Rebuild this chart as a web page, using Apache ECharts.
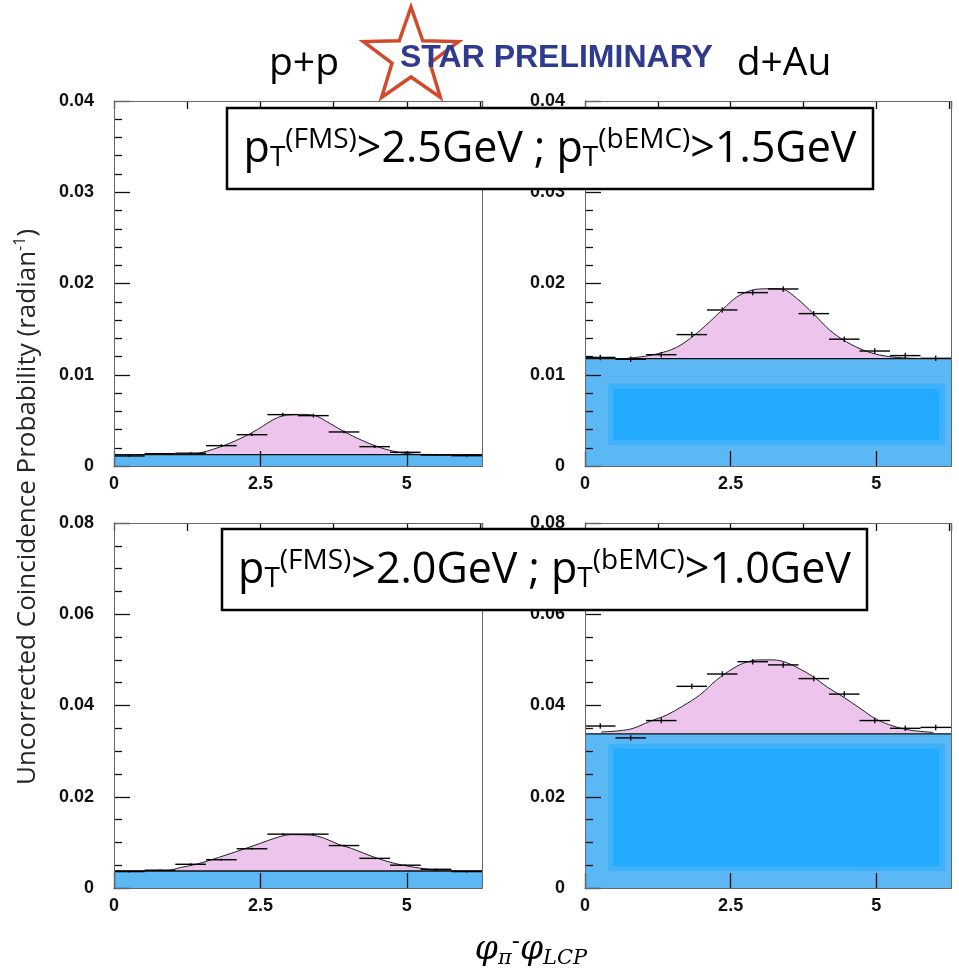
<!DOCTYPE html>
<html>
<head>
<meta charset="utf-8">
<script src="https://cdn.jsdelivr.net/npm/echarts@6/dist/echarts.min.js"></script>
<style>html,body{margin:0;padding:0;background:#fff}#c{width:959px;height:971px}</style>
</head>
<body>
<div id="c"></div>
<script>
// ---------------- DATA ----------------
const phiMax = 6.2832;
const binCenters = [0.262, 0.785, 1.309, 1.833, 2.356, 2.880, 3.403, 3.927, 4.451, 4.974, 5.498, 6.021];
const binHalfWidth = 0.2618;
const xMajorTicks = [0, 2.5, 5];

// p+p, pT(FMS)>2.5GeV ; pT(bEMC)>1.5GeV
const ppHighPedestal = 0.00125;
const ppHighValues = [0.00110, 0.00135, 0.00140, 0.00223, 0.00343, 0.00563, 0.00552, 0.00373, 0.00212, 0.00150, 0.00120, 0.00113];
const ppHighErrors = [0.0001, 0.0001, 0.0001, 0.00015, 0.00015, 0.0002, 0.0002, 0.00015, 0.00015, 0.0001, 0.0001, 0.0001];
const ppHighFitX = [0, 1.20, 1.45, 1.70, 1.93, 2.22, 2.45, 2.62, 2.79, 2.96, 3.20, 3.42, 3.65, 3.93, 4.22, 4.50, 4.73, 4.96, 5.19, 6.2832];
const ppHighFitY = [0.00125, 0.00127, 0.00140, 0.00185, 0.00237, 0.00321, 0.00400, 0.00470, 0.00530, 0.00560, 0.00565, 0.00555, 0.00480, 0.00376, 0.00285, 0.00212, 0.00168, 0.00140, 0.00128, 0.00125];

// d+Au, pT(FMS)>2.5GeV ; pT(bEMC)>1.5GeV
const dAuHighPedestal = 0.01176;
const dAuHighValues = [0.0119, 0.0117, 0.0122, 0.0144, 0.0171, 0.0190, 0.0194, 0.0167, 0.0139, 0.0126, 0.0121, 0.0118];
const dAuHighErrors = [0.0003, 0.0003, 0.0003, 0.0003, 0.0003, 0.0003, 0.0003, 0.0003, 0.0003, 0.0003, 0.0003, 0.0003];
const dAuHighFitX = [0, 0.54, 0.88, 1.23, 1.57, 1.86, 2.14, 2.37, 2.60, 2.83, 3.00, 3.23, 3.40, 3.63, 3.92, 4.20, 4.49, 4.78, 5.06, 5.35, 5.64, 6.2832];
const dAuHighFitY = [0.01180, 0.01174, 0.01190, 0.01227, 0.01300, 0.01425, 0.01580, 0.01720, 0.01850, 0.01920, 0.01940, 0.01943, 0.01936, 0.01840, 0.01670, 0.01490, 0.01360, 0.01270, 0.01216, 0.01190, 0.01180, 0.01176];
const dAuHighShadeOuter = [0.40, 0.00234, 6.18, 0.00902];
const dAuHighShadeInner = [0.49, 0.00289, 6.08, 0.00847];

// p+p, pT(FMS)>2.0GeV ; pT(bEMC)>1.0GeV
const ppLowPedestal = 0.00373;
const ppLowValues = [0.0036, 0.0039, 0.0052, 0.0062, 0.0086, 0.0118, 0.0118, 0.0093, 0.0065, 0.0050, 0.0041, 0.0036];
const ppLowErrors = [0.0002, 0.0002, 0.0002, 0.0002, 0.0002, 0.0002, 0.0002, 0.0002, 0.0002, 0.0002, 0.0002, 0.0002];
const ppLowFitX = [0, 0.90, 1.13, 1.42, 1.65, 1.93, 2.22, 2.50, 2.79, 3.02, 3.36, 3.59, 3.82, 4.05, 4.27, 4.50, 4.79, 5.07, 5.36, 5.53, 6.2832];
const ppLowFitY = [0.00373, 0.00380, 0.00446, 0.00526, 0.00614, 0.00730, 0.00855, 0.00979, 0.01110, 0.01170, 0.01160, 0.01090, 0.00964, 0.00870, 0.00760, 0.00650, 0.00540, 0.00467, 0.00410, 0.00380, 0.00373];

// d+Au, pT(FMS)>2.0GeV ; pT(bEMC)>1.0GeV
const dAuLowPedestal = 0.0338;
const dAuLowValues = [0.0355, 0.0329, 0.0367, 0.0442, 0.0469, 0.0496, 0.0489, 0.0459, 0.0425, 0.0367, 0.0350, 0.0352];
const dAuLowErrors = [0.0006, 0.0006, 0.0006, 0.0006, 0.0006, 0.0006, 0.0006, 0.0006, 0.0006, 0.0006, 0.0006, 0.0006];
const dAuLowFitX = [0.28, 0.77, 1.11, 1.40, 1.68, 1.97, 2.26, 2.54, 2.77, 3.00, 3.23, 3.46, 3.69, 3.92, 4.15, 4.43, 4.72, 5.00, 5.29, 5.58, 5.98];
const dAuLowFitY = [0.0342, 0.0348, 0.0365, 0.0379, 0.0399, 0.0423, 0.0456, 0.0481, 0.0495, 0.0500, 0.0500, 0.0494, 0.0480, 0.0463, 0.0441, 0.0419, 0.0394, 0.0370, 0.0355, 0.0346, 0.0341];
const dAuLowShadeOuter = [0.40, 0.00365, 6.18, 0.0316];
const dAuLowShadeInner = [0.49, 0.0048, 6.08, 0.0305];

// ---------------- LAYOUT / STYLE ----------------
const PINK = '#ECC4EC', BLUE = '#5BB8F4', BLUE2 = '#3DB1F9', BLUE3 = '#22AAFE';
const panels = [
  {grid: {left: 114, top: 101, width: 368, height: 365}, yMax: 0.04, yInt: 0.01, minorSplit: 5,
   ped: ppHighPedestal, vals: ppHighValues, errs: ppHighErrors, fx: ppHighFitX, fy: ppHighFitY},
  {grid: {left: 585, top: 101, width: 366, height: 365}, yMax: 0.04, yInt: 0.01, minorSplit: 5,
   ped: dAuHighPedestal, vals: dAuHighValues, errs: dAuHighErrors, fx: dAuHighFitX, fy: dAuHighFitY,
   shade: [dAuHighShadeOuter, dAuHighShadeInner]},
  {grid: {left: 114, top: 523, width: 368, height: 365}, yMax: 0.08, yInt: 0.02, minorSplit: 4,
   ped: ppLowPedestal, vals: ppLowValues, errs: ppLowErrors, fx: ppLowFitX, fy: ppLowFitY},
  {grid: {left: 585, top: 523, width: 366, height: 365}, yMax: 0.08, yInt: 0.02, minorSplit: 4,
   ped: dAuLowPedestal, vals: dAuLowValues, errs: dAuLowErrors, fx: dAuLowFitX, fy: dAuLowFitY,
   shade: [dAuLowShadeOuter, dAuLowShadeInner]}
];

const labelFont = {fontFamily: '"Liberation Sans", Arial, sans-serif', fontWeight: 'bold', fontSize: 18, color: '#111'};

const grids = [], xAxes = [], yAxes = [], series = [];
panels.forEach((p, i) => {
  grids.push(Object.assign({containLabel: false}, p.grid));
  xAxes.push({
    type: 'value', gridIndex: i, min: 0, max: phiMax, interval: 2.5, z: 10,
    axisLine: {show: true, lineStyle: {color: '#555', width: 1}},
    axisTick: {show: true, inside: true, length: 15, lineStyle: {color: '#111', width: 1.3}},
    axisLabel: Object.assign({show: true, margin: 9, showMaxLabel: false, showMinLabel: true,
      formatter: v => (xMajorTicks.indexOf(v) >= 0 ? String(v) : '')}, labelFont),
    splitLine: {show: false}
  });
  xAxes.push({
    type: 'value', gridIndex: i, min: 0, max: phiMax, interval: 1.25, z: 10,
    axisLine: {show: false},
    axisTick: {show: true, inside: true, length: 8, lineStyle: {color: '#111', width: 1.3}},
    axisLabel: {show: false}, splitLine: {show: false}
  });
  yAxes.push({
    type: 'value', gridIndex: i, min: 0, max: p.yMax, interval: p.yInt, z: 10,
    axisLine: {show: true, lineStyle: {color: '#555', width: 1}},
    axisTick: {show: true, inside: true, length: 16, lineStyle: {color: '#111', width: 1.3}},
    minorTick: {show: true, splitNumber: p.minorSplit, length: 8, lineStyle: {color: '#111', width: 1.3}},
    axisLabel: Object.assign({margin: 20, formatter: v => (v === 0 ? '0' : v.toFixed(2))}, labelFont),
    splitLine: {show: false}, minorSplitLine: {show: false}
  });
  // fit curve (pink area)
  series.push({
    type: 'line', xAxisIndex: 2 * i, yAxisIndex: i, z: 2,
    data: p.fx.map((x, k) => [x, p.fy[k]]),
    smooth: 0.35, symbol: 'none', animation: false,
    lineStyle: {color: '#222', width: 1},
    areaStyle: {color: PINK, opacity: 1}
  });
  // pedestal (blue)
  series.push({
    type: 'line', xAxisIndex: 2 * i, yAxisIndex: i, z: 3,
    data: [[0, p.ped], [phiMax, p.ped]], symbol: 'none', animation: false,
    lineStyle: {color: '#111', width: 1.3},
    areaStyle: {color: BLUE, opacity: 1}
  });
  if (p.shade) {
    const shadeColors = [BLUE2, BLUE3];
    series.push({
      type: 'custom', xAxisIndex: 2 * i, yAxisIndex: i, z: 4, animation: false, silent: true,
      encode: {x: [0, 2], y: [1, 3]},
      data: p.shade.map((s, k) => [s[0], s[1], s[2], s[3], k]),
      renderItem: (params, api) => {
        const a = api.coord([api.value(0), api.value(1)]);
        const b = api.coord([api.value(2), api.value(3)]);
        return {type: 'rect', shape: {x: a[0], y: b[1], width: b[0] - a[0], height: a[1] - b[1]},
          style: {fill: shadeColors[api.value(4)]}};
      }
    });
  }
  // data points with error bars
  series.push({
    type: 'custom', xAxisIndex: 2 * i, yAxisIndex: i, z: 5, animation: false,
    encode: {x: 0, y: 1},
    data: binCenters.map((x, k) => [x, p.vals[k], p.errs[k]]),
    renderItem: (params, api) => {
      const x = api.value(0), y = api.value(1), e = api.value(2);
      const l = api.coord([x - binHalfWidth, y]), r = api.coord([x + binHalfWidth, y]);
      const t = api.coord([x, y + e]), b = api.coord([x, y - e]);
      return {type: 'group', children: [
        {type: 'line', shape: {x1: l[0], y1: l[1], x2: r[0], y2: r[1]}, style: {stroke: '#000', lineWidth: 1.4}},
        {type: 'line', shape: {x1: t[0], y1: t[1], x2: b[0], y2: b[1]}, style: {stroke: '#000', lineWidth: 1.3}}
      ]};
    }
  });
});

// ---------------- DECORATION (graphic) ----------------
const graphics = [];
panels.forEach(p => {
  graphics.push({type: 'rect', z: 20, silent: true,
    shape: {x: p.grid.left + 0.5, y: p.grid.top + 0.5, width: p.grid.width, height: p.grid.height},
    style: {fill: 'none', stroke: '#666', lineWidth: 1}});
});
// star logo
const starPts = [];
for (let k = 0; k < 10; k++) {
  const a = -Math.PI / 2 + k * Math.PI / 5;
  const rr = k % 2 === 0 ? 50 : 20;
  starPts.push([411 + rr * Math.cos(a), 57 + rr * Math.sin(a)]);
}
graphics.push({type: 'polygon', z: 30, silent: true, shape: {points: starPts},
  style: {fill: 'none', stroke: '#D24A2C', lineWidth: 3.5, lineJoin: 'miter'}});
graphics.push({type: 'text', z: 31, x: 400, y: 58, silent: true,
  style: {text: 'STAR PRELIMINARY', fontFamily: '"Liberation Sans", Arial, sans-serif', fontWeight: 'bold',
    fontSize: 32, fill: '#2E3B8F', textAlign: 'left', textVerticalAlign: 'middle'}});
graphics.push({type: 'text', z: 31, x: 304, y: 64, silent: true,
  style: {text: 'p+p', fontFamily: '"Open Sans", sans-serif', fontSize: 39, fill: '#000', textAlign: 'center', textVerticalAlign: 'middle'}});
graphics.push({type: 'text', z: 31, x: 784, y: 64, silent: true,
  style: {text: 'd+Au', fontFamily: '"Open Sans", sans-serif', fontSize: 39, fill: '#000', textAlign: 'center', textVerticalAlign: 'middle'}});

const richBox = {
  m: {fontFamily: '"Open Sans", sans-serif', fontSize: 43, lineHeight: 46, verticalAlign: 'middle', fill: '#000'},
  sup: {fontFamily: '"Open Sans", sans-serif', fontSize: 28, lineHeight: 32, verticalAlign: 'top', fill: '#000'},
  sub: {fontFamily: '"Open Sans", sans-serif', fontSize: 28, lineHeight: 32, verticalAlign: 'bottom', fill: '#000'}
};
function cutBox(x, y, w, h, s1, s2) {
  graphics.push({type: 'rect', z: 40, silent: true, shape: {x: x, y: y, width: w, height: h},
    style: {fill: '#fff', stroke: '#000', lineWidth: 2.5}});
  graphics.push({type: 'text', z: 41, silent: true, x: x + w / 2, y: y + h / 2 + 1,
    style: {text: '{m|p}{sub|T}{sup|(FMS)}{m|>' + s1 + 'GeV ; p}{sub|T}{sup|(bEMC)}{m|>' + s2 + 'GeV}',
      rich: richBox, textAlign: 'center', textVerticalAlign: 'middle'}});
}
cutBox(227, 108, 646, 81, '2.5', '1.5');
cutBox(222, 529, 645, 81, '2.0', '1.0');

// axis titles
graphics.push({type: 'text', z: 31, silent: true, x: 28, y: 507, rotation: Math.PI / 2,
  style: {text: '{t|Uncorrected Coincidence Probability (radian}{s|-1}{t|)}',
    rich: {t: {fontFamily: '"Open Sans", sans-serif', fontSize: 26, lineHeight: 32, verticalAlign: 'middle', fill: '#262626'},
           s: {fontFamily: '"Open Sans", sans-serif', fontSize: 16, lineHeight: 32, verticalAlign: 'top', fill: '#262626'}},
    textAlign: 'center', textVerticalAlign: 'middle'}});
graphics.push({type: 'text', z: 31, silent: true, x: 531, y: 950,
  style: {text: '{f|φ}{s|π}{d|-}{f|φ}{s|LCP}',
    rich: {f: {fontFamily: '"DejaVu Serif", serif', fontStyle: 'italic', fontSize: 33, lineHeight: 38, verticalAlign: 'middle', fill: '#000'},
           s: {fontFamily: '"DejaVu Serif", serif', fontStyle: 'italic', fontSize: 21, lineHeight: 22, verticalAlign: 'bottom', fill: '#000'},
           d: {fontFamily: '"DejaVu Serif", serif', fontSize: 24, lineHeight: 26, verticalAlign: 'top', fill: '#000'}},
    textAlign: 'center', textVerticalAlign: 'middle'}});

const chart = echarts.init(document.getElementById('c'), null, {renderer: 'canvas'});
chart.setOption({
  animation: false,
  backgroundColor: '#fff',
  grid: grids, xAxis: xAxes, yAxis: yAxes, series: series,
  graphic: {elements: graphics}
});
</script>
</body>
</html>
